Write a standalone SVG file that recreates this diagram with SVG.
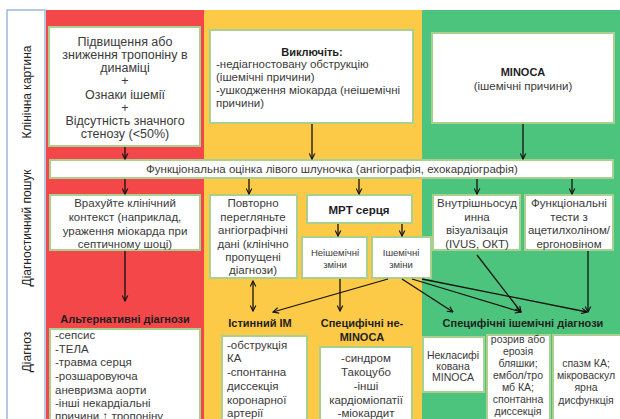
<svg xmlns="http://www.w3.org/2000/svg" width="620" height="419" viewBox="0 0 620 419">
<defs>
<marker id="ah" viewBox="0 0 10 10" refX="9" refY="5" markerWidth="7" markerHeight="7" orient="auto-start-reverse" markerUnits="userSpaceOnUse">
<path d="M1,1 L9,5 L1,9" fill="none" stroke="#111" stroke-width="1.6"/>
</marker>
<style>
text{font-family:"Liberation Sans",Arial,sans-serif;fill:#3a3a3a;font-size:11.5px}
.c{text-anchor:middle}
.b{font-weight:bold;fill:#1e1e1e;font-size:11px}
.s{font-size:9.5px}
.m{font-size:10.5px}
.l{font-size:12.5px}
.box{fill:#fff;stroke:#a9d08e;stroke-width:2}
.lab{font-size:12px;fill:#222}
.cn line{stroke:#111;stroke-width:1.3;marker-end:url(#ah)}
</style>
</defs>
<rect width="620" height="419" fill="#fff"/>
<rect x="46" y="10" width="158" height="412" fill="#f4474a"/>
<rect x="204" y="10" width="218" height="412" fill="#fdca48"/>
<rect x="422" y="10" width="198" height="412" fill="#4dc47d"/>
<rect x="7" y="10" width="38" height="415" fill="#fff" stroke="#9db8dd" stroke-width="1.5"/>
<g id="labels">
<text class="c lab" transform="rotate(-90 27 92)" x="27" y="92" dy="0.35em">Клінічна картина</text>
<text class="c lab" transform="rotate(-90 27 228)" x="27" y="228" dy="0.35em">Діагностичний пошук</text>
<text class="c lab" transform="rotate(-90 27 352)" x="27" y="352" dy="0.35em">Діагноз</text>
</g>
<g id="n-troponin">
<rect class="box" x="49" y="27" width="151" height="119"/>
<text class="c l" x="125" y="46">Підвищення або</text>
<text class="c l" x="125" y="59">зниження тропоніну в</text>
<text class="c l" x="125" y="72">динаміці</text>
<text class="c l" x="125" y="85">+</text>
<text class="c l" x="125" y="99">Ознаки ішемії</text>
<text class="c l" x="125" y="112">+</text>
<text class="c l" x="125" y="125">Відсутність значного</text>
<text class="c l" x="125" y="138">стенозу  (&lt;50%)</text>
</g>
<g id="n-exclude">
<rect class="box" x="210" y="30" width="203" height="93"/>
<text class="c b" x="312" y="56">Виключіть:</text>
<text x="216" y="68">-недіагностовану обструкцію</text>
<text x="216" y="81">(ішемічні причини)</text>
<text x="216" y="94">-ушкодження міокарда (неішемічні</text>
<text x="216" y="107">причини)</text>
</g>
<g id="n-minoca">
<rect class="box" x="432" y="33" width="182" height="90"/>
<text class="c b" x="523" y="76">MINOCA</text>
<text class="c" x="523" y="90">(ішемічні причини)</text>
</g>
<g id="n-func">
<rect class="box" x="50" y="160" width="563" height="18"/>
<text class="c" x="332" y="173">Функціональна оцінка лівого шлуночка (ангіографія, ехокардіографія)</text>
</g>
<g id="n-context">
<rect class="box" x="50" y="195" width="150" height="55"/>
<text class="c" x="125" y="207">Врахуйте клінічний</text>
<text class="c" x="125" y="221">контекст (наприклад,</text>
<text class="c" x="125" y="235">ураження міокарда при</text>
<text class="c" x="125" y="248">септичному шоці)</text>
</g>
<g id="n-review">
<rect class="box" x="210" y="195" width="87" height="83"/>
<text class="c" x="253" y="207">Повторно</text>
<text class="c" x="253" y="221">перегляньте</text>
<text class="c" x="253" y="234">ангіографічні</text>
<text class="c" x="253" y="248">дані (клінічно</text>
<text class="c" x="253" y="261">пропущені</text>
<text class="c" x="253" y="274">діагнози)</text>
</g>
<g id="n-mri">
<rect class="box" x="307" y="195" width="105" height="28"/>
<text class="c b" x="359" y="214" style="font-size:11.5px">МРТ серця</text>
</g>
<g id="n-nonisch">
<rect class="box" x="302" y="237" width="65" height="41"/>
<text class="c s" x="335" y="256">Неішемічні</text>
<text class="c s" x="335" y="268">зміни</text>
</g>
<g id="n-isch">
<rect class="box" x="372" y="237" width="59" height="41"/>
<text class="c s" x="401" y="256">Ішемічні</text>
<text class="c s" x="401" y="268">зміни</text>
</g>
<g id="n-ivus">
<rect class="box" x="433" y="195" width="87" height="55"/>
<text class="c" x="477" y="207">Внутрішньосуд</text>
<text class="c" x="477" y="221">инна</text>
<text class="c" x="477" y="234">візуалізація</text>
<text class="c" x="477" y="248">(IVUS, ОКТ)</text>
</g>
<g id="n-tests">
<rect class="box" x="525" y="195" width="88" height="55"/>
<text class="c" x="569" y="207">Функціональні</text>
<text class="c" x="569" y="221">тести з</text>
<text class="c" x="569" y="234">ацетилхоліном/</text>
<text class="c" x="569" y="248">ергоновіном</text>
</g>
<g id="n-alt">
<text class="c b" x="125" y="323">Альтернативні діагнози</text>
<rect class="box" x="50" y="329" width="150" height="95"/>
<text x="55" y="339">-сепсис</text>
<text x="55" y="353">-ТЕЛА</text>
<text x="55" y="366">-травма серця</text>
<text x="55" y="380">-розшаровуюча</text>
<text x="55" y="394">аневризма аорти</text>
<text x="55" y="407">-інші некардіальні</text>
<text x="55" y="420">причини ↑ тропоніну</text>
</g>
<g id="n-truemi">
<text class="c b" x="260" y="327">Істинний ІМ</text>
<rect class="box" x="222" y="336" width="85" height="88"/>
<text x="227" y="349">-обструкція</text>
<text x="227" y="362">КА</text>
<text x="227" y="376">-спонтанна</text>
<text x="227" y="390">диссекція</text>
<text x="227" y="404">коронарної</text>
<text x="227" y="417">артерії</text>
</g>
<g id="n-specnon">
<text class="c b" x="362" y="327">Специфічні не-</text>
<text class="c b" x="362" y="341">MINOCA</text>
<rect class="box" x="320" y="347" width="92" height="77"/>
<text class="c" x="366" y="362">-синдром</text>
<text class="c" x="366" y="376">Такоцубо</text>
<text class="c" x="366" y="390">-інші</text>
<text class="c" x="366" y="404">кардіоміопатії</text>
<text class="c" x="366" y="417">-міокардит</text>
</g>
<g id="n-specisch">
<text class="c b" x="523" y="327">Специфічні ішемічні діагнози</text>
</g>
<g id="n-unclass">
<rect class="box" x="423" y="337" width="61" height="55"/>
<text class="c m" x="453" y="359">Некласифі</text>
<text class="c m" x="453" y="370">кована</text>
<text class="c m" x="453" y="381">MINOCA</text>
</g>
<g id="n-plaque">
<rect class="box" x="487" y="335" width="63" height="89"/>
<text class="c m" x="518" y="343">розрив або</text>
<text class="c m" x="518" y="355">ерозія</text>
<text class="c m" x="518" y="367">бляшки;</text>
<text class="c m" x="518" y="379">ембол/тро</text>
<text class="c m" x="518" y="391">мб КА;</text>
<text class="c m" x="518" y="403">спонтанна</text>
<text class="c m" x="518" y="415">диссекція</text>
<text class="c m" x="518" y="427">КА</text>
</g>
<g id="n-spasm">
<rect class="box" x="553" y="335" width="70" height="89"/>
<text class="c m" x="586" y="367">спазм КА;</text>
<text class="c m" x="586" y="379">мікроваскул</text>
<text class="c m" x="586" y="391">ярна</text>
<text class="c m" x="586" y="404">дисфункція</text>
</g>
<g id="connectors" class="cn">
<line x1="125" y1="147" x2="125" y2="159"/>
<line x1="312" y1="124" x2="312" y2="159"/>
<line x1="523" y1="124" x2="523" y2="159"/>
<line x1="125" y1="179" x2="125" y2="194"/>
<line x1="249" y1="179" x2="249" y2="194"/>
<line x1="359" y1="179" x2="359" y2="194"/>
<line x1="477" y1="179" x2="477" y2="194"/>
<line x1="572" y1="179" x2="572" y2="194"/>
<line x1="338" y1="224" x2="338" y2="236"/>
<line x1="402" y1="224" x2="402" y2="236"/>
<line x1="125" y1="251" x2="125" y2="301"/>
<line x1="253" y1="281" x2="253" y2="311" marker-start="url(#ah)"/>
<line x1="340" y1="279" x2="340" y2="311"/>
<line x1="388" y1="279" x2="273" y2="312"/>
<line x1="402" y1="279" x2="453" y2="312"/>
<line x1="412" y1="279" x2="521" y2="312"/>
<line x1="422" y1="279" x2="587" y2="312"/>
<line x1="477" y1="255" x2="521" y2="312"/>
<line x1="588" y1="251" x2="588" y2="312"/>
</g>
</svg>
